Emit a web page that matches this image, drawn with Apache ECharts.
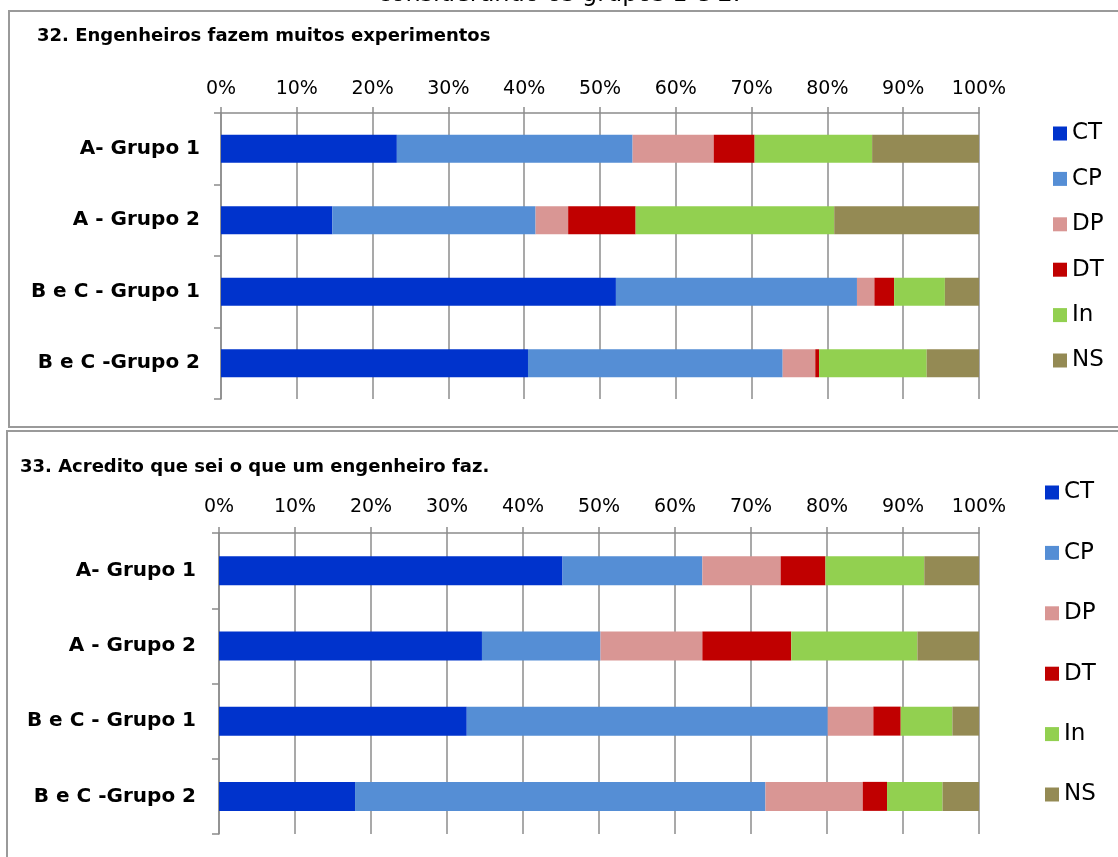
<!DOCTYPE html>
<html>
<head>
<meta charset="utf-8">
<title>Engenheiros — respostas por grupo</title>
<script src="https://cdn.jsdelivr.net/npm/echarts@6/dist/echarts.min.js"></script>
<style>
  html, body { margin: 0; padding: 0; background: #fff; }
  #chart { width: 1118px; height: 857px; }
</style>
</head>
<body>
<div id="chart"></div>
<script>
// Groups shown on the vertical axis (top to bottom)
const categories = ['A- Grupo 1', 'A - Grupo 2', 'B e C - Grupo 1', 'B e C -Grupo 2'];

// Answer scale: CT, CP, DP, DT, In, NS
const answerNames = ['CT', 'CP', 'DP', 'DT', 'In', 'NS'];
const answerColors = ['#0033CC', '#558ED5', '#D99694', '#C00000', '#92D050', '#948A54'];

// Horizontal axis tick values (percent)
const percentTicks = [0, 10, 20, 30, 40, 50, 60, 70, 80, 90, 100];

// 32. Engenheiros fazem muitos experimentos (% per group)
const q32_CT = [23.2, 14.7, 52.1, 40.5];
const q32_CP = [31.1, 26.8, 31.8, 33.6];
const q32_DP = [10.7, 4.3, 2.3, 4.3];
const q32_DT = [5.4, 8.9, 2.6, 0.5];
const q32_In = [15.5, 26.2, 6.7, 14.2];
const q32_NS = [14.1, 19.1, 4.5, 6.9];

// 33. Acredito que sei o que um engenheiro faz. (% per group)
const q33_CT = [45.2, 34.6, 32.6, 17.9];
const q33_CP = [18.4, 15.6, 47.5, 54.0];
const q33_DP = [10.3, 13.4, 6.0, 12.8];
const q33_DT = [5.9, 11.7, 3.6, 3.2];
const q33_In = [13.0, 16.6, 6.8, 7.3];
const q33_NS = [7.2, 8.1, 3.5, 4.8];

const q32 = [q32_CT, q32_CP, q32_DP, q32_DT, q32_In, q32_NS];
const q33 = [q33_CT, q33_CP, q33_DP, q33_DT, q33_In, q33_NS];

const FONT = '"DejaVu Sans", "Liberation Sans", sans-serif';
const GRID_GRAY = '#8c8c8c';

function xAxisFor(gridIndex, margin) {
  return {
    type: 'value',
    gridIndex: gridIndex,
    position: 'top',
    min: percentTicks[0],
    max: percentTicks[percentTicks.length - 1],
    interval: percentTicks[1] - percentTicks[0],
    axisLine: { show: true, lineStyle: { color: GRID_GRAY, width: 1.5 } },
    axisTick: { show: true, length: 6, lineStyle: { color: GRID_GRAY, width: 1.5 } },
    splitLine: { show: true, lineStyle: { color: GRID_GRAY, width: 1.5 } },
    axisLabel: {
      formatter: '{value}%',
      color: '#000',
      fontFamily: FONT,
      fontSize: 19,
      lineHeight: 19,
      margin: margin
    }
  };
}

function yAxisFor(gridIndex, margin) {
  return {
    type: 'category',
    gridIndex: gridIndex,
    data: categories,
    inverse: true,
    axisLine: { show: true, lineStyle: { color: GRID_GRAY, width: 1.5 } },
    axisTick: { show: true, length: 7, lineStyle: { color: GRID_GRAY, width: 1.5 } },
    splitLine: { show: false },
    axisLabel: {
      color: '#000',
      fontFamily: FONT,
      fontSize: 20,
      fontWeight: 'bold',
      margin: margin
    }
  };
}

function seriesFor(values, gridIndex, barWidth) {
  return answerNames.map(function (name, i) {
    return {
      name: name,
      type: 'bar',
      stack: 'q' + gridIndex,
      xAxisIndex: gridIndex,
      yAxisIndex: gridIndex,
      barWidth: barWidth,
      itemStyle: { color: answerColors[i] },
      emphasis: { disabled: true },
      data: values[i]
    };
  });
}

function legendFor(left, top, gap) {
  return {
    orient: 'vertical',
    left: left,
    top: top,
    icon: 'rect',
    itemWidth: 14,
    itemHeight: 14,
    itemGap: gap,
    selectedMode: false,
    data: answerNames,
    textStyle: { color: '#000', fontFamily: FONT, fontSize: 23, lineHeight: 22 }
  };
}

const chart = echarts.init(document.getElementById('chart'), null, { renderer: 'canvas' });

chart.setOption({
  animation: false,
  color: answerColors,
  textStyle: { fontFamily: FONT },
  graphic: [
    {
      type: 'rect', silent: true, z: -10,
      shape: { x: 9, y: 11, width: 1130, height: 416 },
      style: { fill: 'none', stroke: '#9a9a9a', lineWidth: 2 }
    },
    {
      type: 'rect', silent: true, z: -10,
      shape: { x: 7, y: 431, width: 1130, height: 450 },
      style: { fill: 'none', stroke: '#9a9a9a', lineWidth: 2 }
    },
    {
      type: 'text', silent: true, left: 'center', top: -17,
      style: { text: 'considerando os grupos 1 e 2.', fill: '#000', font: '24px ' + FONT }
    },
    {
      type: 'text', silent: true, x: 37, y: 36,
      style: {
        text: '32. Engenheiros fazem muitos experimentos',
        fill: '#000', font: 'bold 18px ' + FONT, verticalAlign: 'middle'
      }
    },
    {
      type: 'text', silent: true, x: 20, y: 467,
      style: {
        text: '33. Acredito que sei o que um engenheiro faz.',
        fill: '#000', font: 'bold 18px ' + FONT, verticalAlign: 'middle'
      }
    }
  ],
  grid: [
    { left: 221, right: 139, top: 113, height: 286 },
    { left: 219, right: 139, top: 533, height: 301 }
  ],
  xAxis: [xAxisFor(0, 14), xAxisFor(1, 16)],
  yAxis: [yAxisFor(0, 21), yAxisFor(1, 23)],
  legend: [legendFor(1048, 117, 22.4), legendFor(1040, 476, 37.4)],
  series: seriesFor(q32, 0, 28).concat(seriesFor(q33, 1, 29))
});
</script>
</body>
</html>
